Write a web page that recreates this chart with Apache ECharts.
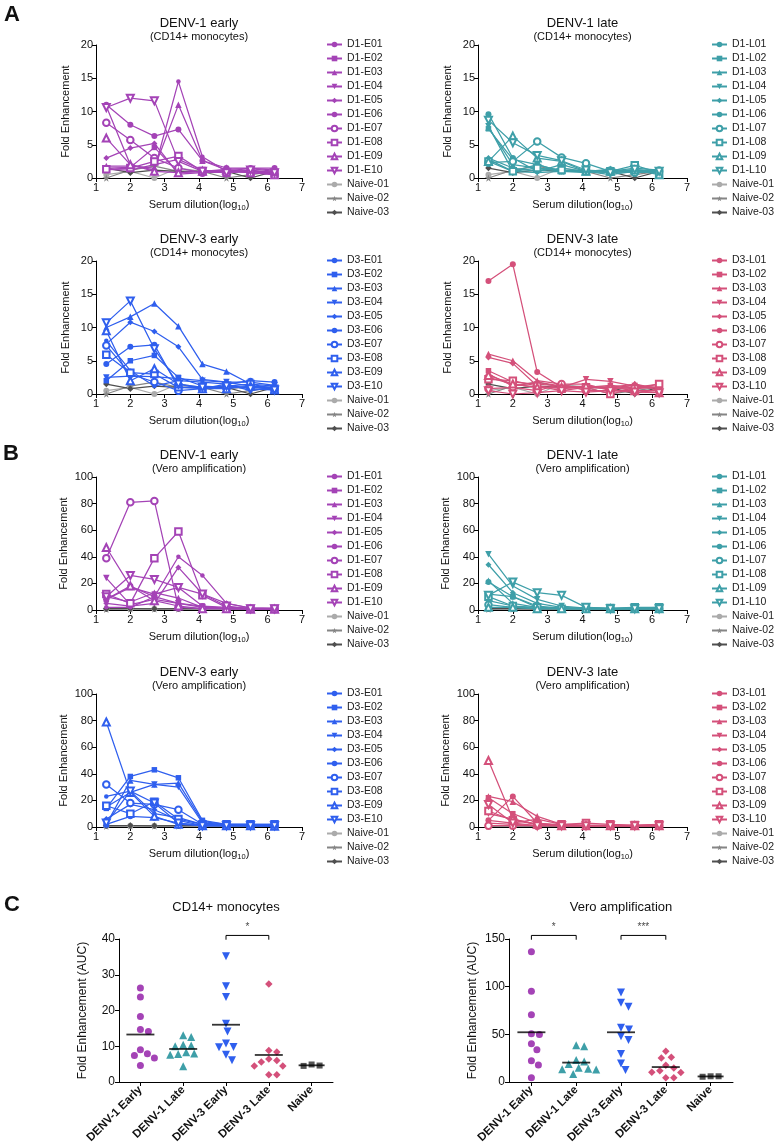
<!DOCTYPE html>
<html><head><meta charset="utf-8">
<script src="https://cdn.jsdelivr.net/npm/echarts@6/dist/echarts.min.js"></script>
<style>html,body{margin:0;padding:0;background:#fff}#c{width:774px;height:1145px}</style>
</head><body><div id="c"></div>
<script>
// ---------------- DATA ----------------
const dilutionLog10 = [1.3, 2.0, 2.7, 3.4, 4.1, 4.8, 5.5, 6.2];

const d1EarlyNames = ['D1-E01','D1-E02','D1-E03','D1-E04','D1-E05','D1-E06','D1-E07','D1-E08','D1-E09','D1-E10'];
const d1LateNames  = ['D1-L01','D1-L02','D1-L03','D1-L04','D1-L05','D1-L06','D1-L07','D1-L08','D1-L09','D1-L10'];
const d3EarlyNames = ['D3-E01','D3-E02','D3-E03','D3-E04','D3-E05','D3-E06','D3-E07','D3-E08','D3-E09','D3-E10'];
const d3LateNames  = ['D3-L01','D3-L02','D3-L03','D3-L04','D3-L05','D3-L06','D3-L07','D3-L08','D3-L09','D3-L10'];
const naiveNames   = ['Naive-01','Naive-02','Naive-03'];

// CD14+ monocytes, fold enhancement per dilution
const monoD1Early = [
  [11.0, 8.0, 6.3, 7.3, 2.6, 1.5, 1.5, 1.5],
  [1.5, 1.6, 4.6, 0.8, 1.0, 1.3, 1.4, 1.0],
  [1.8, 1.8, 1.5, 11.0, 2.6, 1.2, 1.0, 0.8],
  [1.3, 1.2, 2.0, 2.8, 1.2, 0.8, 1.2, 0.6],
  [3.0, 4.5, 5.2, 0.6, 0.8, 1.0, 1.0, 0.6],
  [10.8, 2.0, 1.2, 14.5, 3.2, 1.0, 1.5, 1.2],
  [8.3, 5.7, 3.0, 1.5, 0.8, 1.0, 0.8, 0.5],
  [1.3, 1.5, 2.5, 3.3, 1.0, 0.8, 1.0, 0.8],
  [6.0, 2.0, 1.0, 0.8, 1.0, 1.2, 0.8, 0.5],
  [10.6, 12.0, 11.6, 2.5, 1.0, 0.8, 1.2, 0.8]
];
const monoD1Late = [
  [9.6, 3.0, 1.0, 1.5, 1.0, 1.3, 1.0, 1.3],
  [7.4, 2.8, 2.0, 1.0, 1.2, 1.0, 1.2, 1.0],
  [7.6, 2.0, 1.5, 1.0, 1.0, 0.8, 1.0, 0.8],
  [7.8, 1.0, 0.8, 1.0, 1.0, 0.5, 1.0, 1.0],
  [3.0, 1.5, 1.0, 2.0, 1.0, 1.2, 0.8, 1.0],
  [2.8, 1.0, 2.0, 1.0, 0.8, 1.0, 1.5, 1.2],
  [2.3, 2.5, 5.5, 3.1, 2.2, 1.0, 0.8, 1.0],
  [2.5, 1.0, 1.5, 1.2, 1.0, 1.0, 1.9, 0.8],
  [2.5, 6.3, 3.0, 2.5, 1.0, 1.0, 1.2, 0.5],
  [8.7, 5.3, 3.4, 2.6, 1.2, 0.8, 1.3, 1.0]
];
const monoD3Early = [
  [4.5, 7.1, 7.4, 1.0, 0.8, 1.5, 2.0, 1.8],
  [2.0, 5.0, 5.8, 2.5, 1.2, 1.0, 1.0, 1.0],
  [10.0, 11.6, 13.6, 10.2, 4.5, 3.4, 1.5, 1.2],
  [2.5, 2.7, 2.6, 2.3, 2.0, 1.8, 1.8, 1.3],
  [7.5, 10.8, 9.4, 7.1, 2.2, 1.8, 1.2, 1.0],
  [8.0, 3.5, 1.2, 2.0, 1.8, 1.5, 0.5, 1.0],
  [7.3, 3.0, 1.8, 0.5, 0.8, 1.2, 1.0, 0.8],
  [5.9, 3.2, 3.0, 1.0, 1.0, 1.2, 1.5, 0.8],
  [9.5, 2.0, 3.8, 1.5, 0.8, 0.8, 1.2, 0.6],
  [10.7, 14.0, 6.8, 1.5, 1.0, 1.2, 0.8, 0.6]
];
const monoD3Late = [
  [17.0, 19.5, 3.3, 1.0, 1.0, 1.0, 0.8, 1.0],
  [3.5, 1.8, 1.5, 1.2, 1.0, 1.3, 1.0, 1.5],
  [6.0, 5.0, 2.0, 1.5, 1.5, 0.5, 1.5, 0.8],
  [2.5, 1.5, 1.0, 1.0, 2.2, 1.9, 1.2, 1.0],
  [5.5, 4.6, 1.2, 0.5, 1.0, 1.0, 1.5, 0.5],
  [3.0, 1.2, 1.8, 1.2, 1.0, 0.8, 1.0, 1.0],
  [0.8, 1.0, 0.5, 1.5, 0.5, 0.5, 0.5, 0.5],
  [2.2, 2.0, 1.2, 0.8, 1.0, 0.0, 0.8, 1.5],
  [2.8, 1.5, 1.0, 1.0, 1.2, 1.0, 0.5, 0.2],
  [0.5, 0.0, 0.2, 0.5, 0.3, 0.5, 0.3, 0.2]
];
const monoNaive = [
  [0.5, 1.0, 0.0, 1.5, 1.0, 0.8, 1.0, 1.0],
  [0.0, 1.2, 1.8, 1.0, 1.0, 0.0, 0.5, 1.0],
  [1.5, 0.8, 1.2, 1.0, 1.0, 1.0, 0.0, 1.0]
];

// Vero amplification, fold enhancement per dilution
const veroD1Early = [
  [8, 18, 10, 5, 3, 1, 1, 1],
  [8, 17, 12, 17, 3, 2, 1.5, 1.5],
  [10, 6, 13, 9, 2, 1, 1, 0.5],
  [24, 4, 8, 5, 2, 1, 1, 0.5],
  [5, 3, 5, 32, 12, 5, 1.5, 1],
  [2, 2, 10, 40, 26, 5, 1.5, 1],
  [39, 81, 82, 2, 1, 1, 1, 0.5],
  [12, 5, 39, 59, 11, 2, 1, 1],
  [47, 18, 7, 3, 1, 1, 0.5, 0.5],
  [10, 26, 23, 17, 12, 3, 1, 1]
];
const veroD1Late = [
  [21, 10, 2, 1, 1, 1, 1.5, 2],
  [12, 10, 3, 1.5, 1, 1, 1.5, 1.5],
  [22, 5, 2, 1, 1, 1, 1, 1],
  [42, 18, 8, 3, 1.5, 1, 1, 1],
  [34, 13, 5, 2, 1, 1, 1, 1],
  [7, 3, 1, 1, 1, 1, 1, 1],
  [4, 2, 1, 1, 1, 1, 1, 1],
  [10, 3, 2, 1, 2, 1.5, 2, 2],
  [2, 2, 1, 1, 1, 1, 1, 1],
  [11, 21, 13, 11, 2, 1, 1, 1]
];
const veroD3Early = [
  [2, 8, 7, 3, 1, 1, 1, 1],
  [14, 38, 43, 37, 5, 2, 2, 2],
  [2, 35, 32, 33, 4, 2, 1.5, 1],
  [15, 26, 32, 30, 3, 2, 2, 1],
  [6, 17, 13, 5, 1, 1, 1, 1],
  [23, 27, 10, 7, 2, 1.5, 1, 1],
  [32, 18, 17, 13, 2, 1, 1, 1],
  [16, 10, 19, 6, 2, 2, 2, 2],
  [79, 26, 8, 2, 1, 1, 1, 0.5],
  [3, 27, 18, 3, 1, 1, 1, 1]
];
const veroD3Late = [
  [5, 23, 3, 1, 1, 1, 1, 1],
  [22, 10, 3, 1.5, 1, 1.5, 1, 2],
  [23, 19, 8, 2, 1, 1, 1, 1],
  [10, 6, 2, 1, 1, 1, 1, 1],
  [3, 2, 1, 1, 1, 1, 1, 1],
  [5, 3, 6, 2, 1.5, 1, 1, 1],
  [1, 1, 1, 1, 1, 1, 1, 1],
  [12, 5, 2, 2, 3, 2, 1.5, 2],
  [50, 6, 2, 1, 1, 1, 1, 1],
  [17, 3, 1, 1, 1, 1, 1, 1]
];
const veroNaive = [
  [0.8, 0.9, 1.0, 0.9, 0.8, 0.9, 1.0, 0.9],
  [0.6, 0.8, 0.8, 0.7, 0.9, 0.8, 0.8, 0.8],
  [1.0, 1.1, 0.9, 1.0, 1.0, 1.0, 0.9, 1.0]
];

// AUC panels
const aucCategories = ['DENV-1 Early', 'DENV-1 Late', 'DENV-3 Early', 'DENV-3 Late', 'Naive'];
const aucMono = [
  [26.3, 23.8, 18.3, 14.7, 14.1, 9.0, 7.9, 7.4, 6.7, 4.6],
  [13.1, 12.6, 10.4, 10.2, 10.0, 8.3, 8.0, 7.8, 7.6, 4.4],
  [35.2, 26.8, 23.8, 16.3, 14.1, 10.8, 9.8, 9.7, 7.6, 6.1],
  [27.4, 8.8, 8.4, 6.4, 6.0, 5.6, 4.5, 4.5, 2.0, 2.0],
  [4.9, 4.5, 4.6]
];
const aucVero = [
  [136.7, 95.1, 70.6, 50.7, 49.7, 40.2, 33.9, 22.4, 17.8, 4.5],
  [38.5, 37.5, 23.0, 21.5, 19.0, 15.0, 14.0, 13.5, 13.0, 8.5],
  [94.0, 83.0, 79.0, 57.0, 55.0, 48.0, 44.0, 29.5, 19.5, 12.5],
  [32.2, 26.0, 25.2, 17.5, 14.7, 11.9, 10.3, 10.0, 4.5, 4.5],
  [6.0, 5.5, 6.0]
];
const sigMono = [[2, 3, '*']];
const sigVero = [[0, 1, '*'], [2, 3, '***']];

// ---------------- STYLE / LAYOUT ----------------
const FONT = '"Liberation Sans", Arial, sans-serif';
const PURPLE = '#A443B6', TEAL = '#3E9FA8', BLUE = '#2F5FEE', PINK = '#D4507A';
const NAIVE_COLORS = ['#ABABAB', '#858585', '#4F4F4F'];
const STAR = 'path://M50,0 L61,35 L98,35 L68,57 L79,91 L50,70 L21,91 L32,57 L2,35 L39,35 Z';
const MARKERS = [
  {symbol: 'circle', size: 6},
  {symbol: 'rect', size: 5.5},
  {symbol: 'triangle', size: 6.5},
  {symbol: 'triangle', size: 6.5, rotate: 180},
  {symbol: 'diamond', size: 6},
  {symbol: 'circle', size: 4.5},
  {symbol: 'emptyCircle', size: 6.5},
  {symbol: 'emptyRect', size: 6.5},
  {symbol: 'emptyTriangle', size: 7},
  {symbol: 'emptyTriangle', size: 7, rotate: 180}
];
const NAIVE_MARKERS = [
  {symbol: 'circle', size: 6},
  {symbol: STAR, size: 7.5},
  {symbol: 'diamond', size: 6.5}
];

const COLS = [{left: 96, width: 206, legend: 321}, {left: 478, width: 209, legend: 706}];
const ROW_TOPS = [45, 261, 477, 694];
const GRID_H = 133;

const linePanels = [
  {names: d1EarlyNames, values: monoD1Early, naive: monoNaive, color: PURPLE, title: 'DENV-1 early', sub: '(CD14+ monocytes)', ymax: 20, yint: 5, col: 0, row: 0},
  {names: d1LateNames,  values: monoD1Late,  naive: monoNaive, color: TEAL,   title: 'DENV-1 late',  sub: '(CD14+ monocytes)', ymax: 20, yint: 5, col: 1, row: 0},
  {names: d3EarlyNames, values: monoD3Early, naive: monoNaive, color: BLUE,   title: 'DENV-3 early', sub: '(CD14+ monocytes)', ymax: 20, yint: 5, col: 0, row: 1},
  {names: d3LateNames,  values: monoD3Late,  naive: monoNaive, color: PINK,   title: 'DENV-3 late',  sub: '(CD14+ monocytes)', ymax: 20, yint: 5, col: 1, row: 1},
  {names: d1EarlyNames, values: veroD1Early, naive: veroNaive, color: PURPLE, title: 'DENV-1 early', sub: '(Vero amplification)', ymax: 100, yint: 20, col: 0, row: 2},
  {names: d1LateNames,  values: veroD1Late,  naive: veroNaive, color: TEAL,   title: 'DENV-1 late',  sub: '(Vero amplification)', ymax: 100, yint: 20, col: 1, row: 2},
  {names: d3EarlyNames, values: veroD3Early, naive: veroNaive, color: BLUE,   title: 'DENV-3 early', sub: '(Vero amplification)', ymax: 100, yint: 20, col: 0, row: 3},
  {names: d3LateNames,  values: veroD3Late,  naive: veroNaive, color: PINK,   title: 'DENV-3 late',  sub: '(Vero amplification)', ymax: 100, yint: 20, col: 1, row: 3}
];

const grids = [], xAxes = [], yAxes = [], series = [], legends = [], gfx = [];

function axisCommon() {
  return {
    axisLine: {show: true, onZero: false, lineStyle: {color: '#000', width: 1}},
    axisTick: {show: true, inside: false, length: 4, lineStyle: {color: '#000', width: 1}},
    splitLine: {show: false},
  };
}
function text(x, y, str, size, weight) {
  gfx.push({type: 'text', x: x, y: y, silent: true,
    style: {text: str, fontSize: size, fontFamily: FONT, fontWeight: weight || 'normal', fill: '#111',
            align: 'center', verticalAlign: 'middle'}});
}

linePanels.forEach((p, i) => {
  const col = COLS[p.col], top = ROW_TOPS[p.row];
  grids.push({left: col.left, top: top, width: col.width, height: GRID_H, containLabel: false, outerBoundsMode: 'none'});
  xAxes.push(Object.assign(axisCommon(), {
    type: 'value', gridIndex: i, min: 1, max: 7, interval: 1,
    axisLabel: {color: '#111', fontSize: 11, fontFamily: FONT, margin: 4},
    name: 'Serum dilution(log{s|10})', nameLocation: 'middle', nameGap: 20,
    nameTextStyle: {color: '#111', fontSize: 11, fontFamily: FONT,
      rich: {s: {fontSize: 7.5, fontFamily: FONT, color: '#111', padding: [6, 0, 0, 0]}}}
  }));
  yAxes.push(Object.assign(axisCommon(), {
    type: 'value', gridIndex: i, min: 0, max: p.ymax, interval: p.yint,
    axisLabel: {color: '#111', fontSize: 11, fontFamily: FONT, margin: 3},
    name: 'Fold Enhancement', nameLocation: 'middle', nameGap: p.ymax > 50 ? 27 : 25,
    nameTextStyle: {color: '#111', fontSize: 11, fontFamily: FONT}
  }));
  const allNames = p.names.concat(naiveNames);
  const addLine = (name, vals, color, mk, z) => {
    series.push({
      type: 'line', name: name, xAxisIndex: i, yAxisIndex: i, z: z,
      data: dilutionLog10.map((x, k) => [x, vals[k]]),
      symbol: mk.symbol, symbolSize: mk.size, symbolRotate: mk.rotate || 0, showSymbol: true,
      lineStyle: {color: color, width: 1.25}, itemStyle: {color: color, borderWidth: 1.1},
      emphasis: {disabled: true}, animation: false, clip: false
    });
  };
  p.naive.forEach((vals, k) => addLine(naiveNames[k], vals, NAIVE_COLORS[k], NAIVE_MARKERS[k], 2));
  p.values.forEach((vals, k) => addLine(p.names[k], vals, p.color, MARKERS[k], 3));
  legends.push({
    orient: 'vertical', left: col.legend, top: top - 11, itemWidth: 15, itemHeight: 7, itemGap: 3.0,
    data: allNames, selectedMode: false,
    textStyle: {color: '#222', fontSize: 10.5, fontFamily: FONT}
  });
  const cx = col.left + col.width / 2;
  text(cx, top - 22, p.title, 13);
  text(cx, top - 8, p.sub, 11);
});

// ---------------- AUC scatter panels ----------------
const aucPanels = [
  {groups: aucMono, title: 'CD14+ monocytes', ymax: 40, yint: 10, left: 119, width: 214, sig: sigMono},
  {groups: aucVero, title: 'Vero amplification', ymax: 150, yint: 50, left: 509, width: 224, sig: sigVero}
];
const AUC_TOP = 939, AUC_H = 143;
const GROUP_STYLE = [
  {color: PURPLE, symbol: 'circle', size: 7},
  {color: TEAL, symbol: 'triangle', size: 8},
  {color: BLUE, symbol: 'triangle', size: 8, rotate: 180},
  {color: PINK, symbol: 'diamond', size: 7.5},
  {color: '#555', symbol: 'rect', size: 6}
];

// beeswarm offsets (in px) computed from values
function swarm(vals, pxPerUnit, d) {
  const order = vals.map((v, i) => i).sort((a, b) => vals[b] - vals[a]);
  const placed = [], off = new Array(vals.length).fill(0);
  order.forEach(i => {
    const y = vals[i] * pxPerUnit;
    for (let k = 0; k < 400; k++) {
      const c = k === 0 ? 0 : (k % 2 ? 1 : -1) * Math.ceil(k / 2) * 0.5;
      const ok = placed.every(q => (q[0] - c) ** 2 + (q[1] - y) ** 2 >= d * d);
      if (ok) { off[i] = c; placed.push([c, y]); break; }
    }
  });
  return off;
}

aucPanels.forEach((p, j) => {
  const gi = linePanels.length + j;
  grids.push({left: p.left, top: AUC_TOP, width: p.width, height: AUC_H, containLabel: false, outerBoundsMode: 'none'});
  xAxes.push(Object.assign(axisCommon(), {
    type: 'category', gridIndex: gi, data: aucCategories, boundaryGap: true,
    axisTick: {show: true, alignWithLabel: true, length: 4, lineStyle: {color: '#000'}},
    axisLabel: {color: '#111', fontSize: 11.5, fontWeight: 'bold', fontFamily: FONT, rotate: 45, interval: 0, margin: 6}
  }));
  const valIdx = xAxes.length;
  xAxes.push({type: 'value', gridIndex: gi, min: -0.5, max: 4.5, show: false, splitLine: {show: false}});
  yAxes.push(Object.assign(axisCommon(), {
    type: 'value', gridIndex: gi, min: 0, max: p.ymax, interval: p.yint,
    axisLabel: {color: '#111', fontSize: 12, fontFamily: FONT, margin: 4},
    name: 'Fold Enhancement (AUC)', nameLocation: 'middle', nameGap: 30,
    nameTextStyle: {color: '#111', fontSize: 12, fontFamily: FONT}
  }));
  const pxPerUnit = AUC_H / p.ymax, band = p.width / aucCategories.length;
  p.groups.forEach((vals, g) => {
    const st = GROUP_STYLE[g];
    const offs = swarm(vals, pxPerUnit, 8);
    series.push({
      type: 'scatter', xAxisIndex: valIdx, yAxisIndex: gi, z: 3,
      data: vals.map((v, k) => [g + offs[k] / band, v]),
      symbol: st.symbol, symbolSize: st.size, symbolRotate: st.rotate || 0,
      itemStyle: {color: st.color, opacity: 1}, emphasis: {disabled: true}, animation: false, clip: false
    });
    const mean = vals.reduce((a, b) => a + b, 0) / vals.length;
    series.push({
      type: 'scatter', xAxisIndex: valIdx, yAxisIndex: gi, z: 4,
      data: [[g, mean]], symbol: 'rect', symbolSize: [g === 4 ? 26 : 28, 1.8],
      itemStyle: {color: '#000'}, emphasis: {disabled: true}, animation: false, clip: false
    });
  });
  p.sig.forEach(s => {
    const yTop = p.ymax * 1.025, yEnd = p.ymax * 0.995;
    series.push({
      type: 'line', xAxisIndex: valIdx, yAxisIndex: gi, z: 5,
      data: [[s[0], yEnd], [s[0], yTop], [s[1], yTop], [s[1], yEnd]],
      symbol: 'none', lineStyle: {color: '#000', width: 1}, emphasis: {disabled: true}, animation: false, clip: false
    });
    series.push({
      type: 'scatter', xAxisIndex: valIdx, yAxisIndex: gi, z: 5,
      data: [[(s[0] + s[1]) / 2, p.ymax * 1.085]], symbolSize: 1, itemStyle: {color: 'rgba(0,0,0,0)'},
      label: {show: true, position: 'inside', formatter: s[2], fontSize: 10, fontFamily: FONT, color: '#111'},
      emphasis: {disabled: true}, animation: false, clip: false
    });
  });
  text(p.left + p.width / 2, AUC_TOP - 32, p.title, 13);
});

// panel letters
text(12, 15, 'A', 22, 'bold');
text(11, 454, 'B', 22, 'bold');
text(12, 905, 'C', 22, 'bold');

const chart = echarts.init(document.getElementById('c'), null, {width: 774, height: 1145});
chart.setOption({
  animation: false,
  backgroundColor: '#fff',
  grid: grids, xAxis: xAxes, yAxis: yAxes, series: series, legend: legends,
  graphic: {elements: gfx}
});
</script></body></html>
